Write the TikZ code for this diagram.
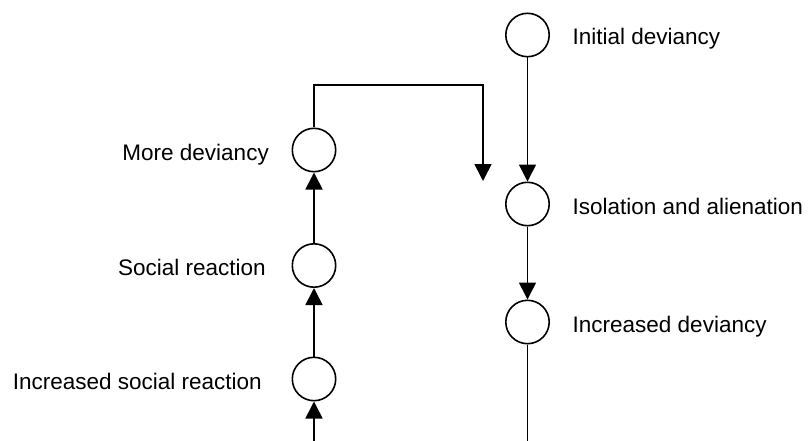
\documentclass[tikz,border=0pt]{standalone}
\usepackage{fontspec}
\setmainfont{Liberation Sans}
\usetikzlibrary{arrows.meta}
\begin{document}
\begin{tikzpicture}[x=1pt,y=-1pt,
  stage/.style={circle,draw,line width=1.6pt,inner sep=0pt,minimum size=43.4pt},
  lbl/.style={inner sep=0pt,font=\fontsize{22.5}{27}\selectfont},
  flow/.style={line width=1.6pt,-{Triangle[length=17pt,width=17pt]}},
  plain/.style={line width=1.6pt}]
\useasboundingbox (0,0) rectangle (808,441);
% right column
\node[stage] (init) at (527.5,35) {};
\node[stage] (iso)  at (527.5,204) {};
\node[stage] (incd) at (527.5,322) {};
% left column
\node[stage] (more) at (314,150) {};
\node[stage] (soc)  at (314,265.5) {};
\node[stage] (incs) at (314,379) {};
% labels
\node[lbl,anchor=base west] (tinit) at (572.5,45) {Initial deviancy};
\node[lbl,anchor=base west] (tiso)  at (572.5,214) {Isolation and alienation};
\node[lbl,anchor=base west] (tincd) at (572.5,332) {Increased deviancy};
\node[lbl,anchor=base east] (tmore) at (269,160) {More deviancy};
\node[lbl,anchor=base east] (tsoc)  at (266,275.5) {Social reaction};
\node[lbl,anchor=base east] (tincs) at (262,389) {Increased social reaction};
% free ends
\coordinate (lbot) at (314,441);
\coordinate (rbot) at (527.5,441);
\coordinate (corner1) at (314,85);
\coordinate (corner2) at (483,85);
\coordinate (drop) at (483,181);
% connectors
\draw[flow] (init) -- (iso);
\draw[flow] (iso) -- (incd);
\draw[plain] (incd) -- (rbot);
\draw[flow] (lbot) -- (incs);
\draw[flow] (incs) -- (soc);
\draw[flow] (soc) -- (more);
\draw[flow] (more) -- (corner1) -- (corner2) -- (drop);
\end{tikzpicture}
\end{document}
